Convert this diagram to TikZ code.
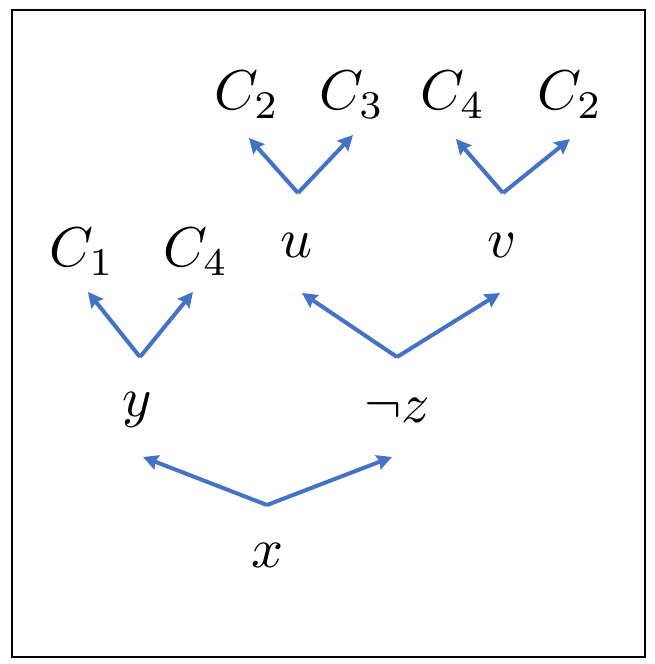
\documentclass[tikz,border=0pt]{standalone}
\usepackage{amsmath,amssymb}
\usepackage{graphicx}
\usepackage{tikz}
\usetikzlibrary{arrows.meta}
\definecolor{arrowblue}{HTML}{4472C4}
\newcommand{\lbig}[1]{\scalebox{5.6}{$#1$}}

\begin{document}
\begin{tikzpicture}[x=1pt,y=-1pt,
  lit/.style={inner sep=0pt,anchor=center},
  br/.style={draw=arrowblue,line width=4pt,
             -{Stealth[length=15pt,width=15pt,inset=2pt]}}]
\useasboundingbox (0,0) rectangle (654,664);
\draw[line width=1.8pt] (12,10) rectangle (645,657);
% literals
\node[lit] (x)  at (267,555) {\lbig{x}};
\node[lit] (y)  at (137,410) {\lbig{y}};
\node[lit] (nz) at (397,410) {\lbig{\neg z}};
\node[lit] (c1) at (82,252)  {\lbig{C_1}};
\node[lit] (c4a) at (196,252) {\lbig{C_4}};
\node[lit] (u)  at (297,245) {\lbig{u}};
\node[lit] (v)  at (502,245) {\lbig{v}};
\node[lit] (c2a) at (247,95) {\lbig{C_2}};
\node[lit] (c3) at (352,95)  {\lbig{C_3}};
\node[lit] (c4b) at (453,95) {\lbig{C_4}};
\node[lit] (c2b) at (570,95) {\lbig{C_2}};
% branch points and tips
\coordinate (jx) at (267,505);
\coordinate (jy) at (140,357);
\coordinate (jz) at (397,357);
\coordinate (ju) at (298,193);
\coordinate (jv) at (503,193);
\coordinate (ty) at (143,457);
\coordinate (tz) at (392,457);
\coordinate (tc1) at (88,292);
\coordinate (tc4a) at (193,292);
\coordinate (tu) at (302,293);
\coordinate (tv) at (500,293);
\coordinate (tc2a) at (249,138);
\coordinate (tc3) at (353,135);
\coordinate (tc4b) at (456,139);
\coordinate (tc2b) at (570,139);
\foreach \a/\b in {jx/ty,jx/tz,jy/tc1,jy/tc4a,jz/tu,jz/tv,ju/tc2a,ju/tc3,jv/tc4b,jv/tc2b}
  {\draw[br] (\a) -- (\b);}
\end{tikzpicture}
\end{document}
